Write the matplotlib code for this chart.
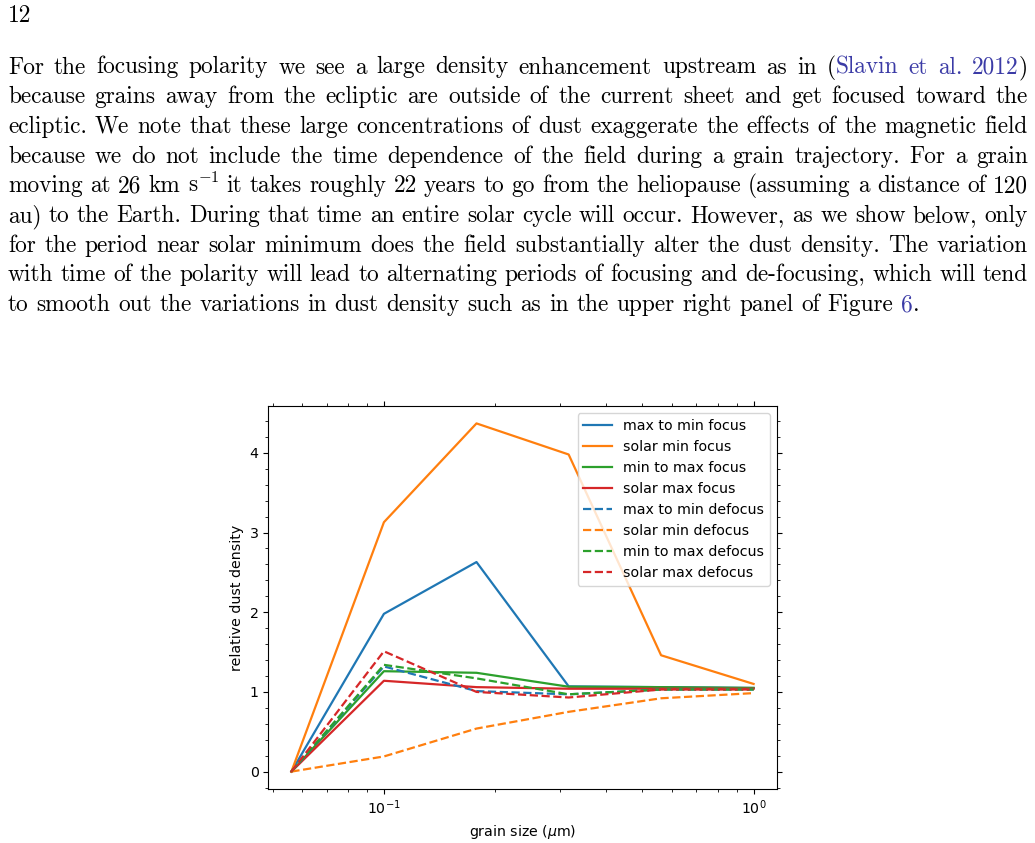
import re
import matplotlib
matplotlib.use("Agg")
import matplotlib.pyplot as plt
from matplotlib.ticker import MultipleLocator

# grain sizes (micron) and relative dust density for each case
grain_size = [0.0562, 0.1, 0.178, 0.316, 0.562, 1.0]

max_to_min_focus = [0.0, 1.98, 2.63, 1.07, 1.06, 1.05]
solar_min_focus = [0.0, 3.13, 4.37, 3.98, 1.46, 1.10]
min_to_max_focus = [0.0, 1.26, 1.24, 1.065, 1.06, 1.05]
solar_max_focus = [0.0, 1.14, 1.06, 1.04, 1.04, 1.04]
max_to_min_defocus = [0.0, 1.32, 1.01, 0.97, 1.03, 1.03]
solar_min_defocus = [0.0, 0.19, 0.54, 0.75, 0.92, 0.985]
min_to_max_defocus = [0.0, 1.34, 1.17, 0.97, 1.03, 1.03]
solar_max_defocus = [0.0, 1.51, 1.00, 0.93, 1.03, 1.03]

series = [
    ("max to min focus", max_to_min_focus, "tab:blue", "-"),
    ("solar min focus", solar_min_focus, "tab:orange", "-"),
    ("min to max focus", min_to_max_focus, "tab:green", "-"),
    ("solar max focus", solar_max_focus, "tab:red", "-"),
    ("max to min defocus", max_to_min_defocus, "tab:blue", "--"),
    ("solar min defocus", solar_min_defocus, "tab:orange", "--"),
    ("min to max defocus", min_to_max_defocus, "tab:green", "--"),
    ("solar max defocus", solar_max_defocus, "tab:red", "--"),
]

# page text, [..] marks link text (blue)
page_number = "12"
paragraph = [
    "For the focusing polarity we see a large density enhancement upstream as in ([Slavin] [et] [al.] [2012])",
    "because grains away from the ecliptic are outside of the current sheet and get focused toward the",
    "ecliptic. We note that these large concentrations of dust exaggerate the effects of the magnetic field",
    "because we do not include the time dependence of the field during a grain trajectory. For a grain",
    "moving at 26 km s$^{-1}$ it takes roughly 22 years to go from the heliopause (assuming a distance of 120",
    "au) to the Earth. During that time an entire solar cycle will occur. However, as we show below, only",
    "for the period near solar minimum does the field substantially alter the dust density. The variation",
    "with time of the polarity will lead to alternating periods of focusing and de-focusing, which will tend",
    "to smooth out the variations in dust density such as in the upper right panel of Figure [6].",
]

W, H = 1035, 843
plt.rcParams["font.size"] = 10.2
fig = plt.figure(figsize=(W / 100, H / 100), dpi=100)
renderer = fig.canvas.get_renderer()

FS = 16.8
LINK = "#3b3ba6"
left_px, right_px = 8, 1028
base0, step = 73.5, 29.7


def px_text(x, y, s, color="black"):
    t = fig.text(x / W, 1 - y / H, s, fontsize=FS, family="cmr10",
                 color=color, ha="left", va="baseline")
    t.set_math_fontfamily("cm")
    return t


def make_word(word):
    # split into black / blue pieces
    parts = [p for p in re.split(r"(\[[^\]]*\])", word) if p]
    pieces = []
    for p in parts:
        col = LINK if p.startswith("[") else "black"
        t = px_text(0, 0, p.strip("[]"), col)
        w = t.get_window_extent(renderer).width
        pieces.append((t, w))
    return pieces


px_text(left_px, 21.5, page_number)

space_w = FS * 0.333 * 100 / 72
for i, line in enumerate(paragraph):
    y = base0 + i * step
    words = [make_word(w) for w in line.split(" ")]
    widths = [sum(w for _, w in pcs) for pcs in words]
    if i < len(paragraph) - 1:
        gap = (right_px - left_px - sum(widths)) / (len(words) - 1)
    else:
        gap = space_w
    x = left_px
    for pcs, wd in zip(words, widths):
        xx = x
        for t, w in pcs:
            t.set_position((xx / W, 1 - y / H))
            xx += w
        x += wd + gap

# chart
ax = fig.add_axes([268.3 / W, 1 - 789 / H, (776.7 - 268.3) / W, (789 - 406) / H])
for label, vals, col, ls in series:
    ax.plot(grain_size, vals, color=col, linestyle=ls, label=label, lw=1.6)
ax.set_xscale("log")
ax.yaxis.set_minor_locator(MultipleLocator(0.2))
ax.tick_params(which="both", top=True, right=True)
ax.set_xlabel("grain size ($\\mu$m)")
ax.set_ylabel("relative dust density")
ax.legend(loc="upper right")

fig.savefig("out.png", dpi=100)
